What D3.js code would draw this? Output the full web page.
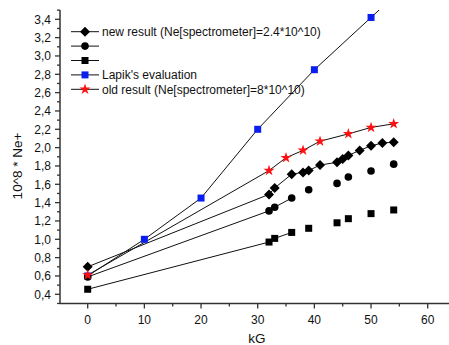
<!DOCTYPE html>
<html>
<head>
<meta charset="utf-8">
<script src="https://cdn.jsdelivr.net/npm/d3@7"></script>
<style>
  body { margin: 0; background: #fff; }
  svg { display: block; font-family: Arial, "Liberation Sans", sans-serif; }
</style>
</head>
<body>
<div id="chart"></div>
<script>
// Data (kG vs 10^8 * Ne+)
const newResultX = [0, 32, 33, 36, 38, 39, 41, 44, 45, 46, 48, 50, 52, 54];
const newResultY = [0.70, 1.49, 1.56, 1.71, 1.73, 1.75, 1.81, 1.84, 1.875, 1.915, 1.97, 2.02, 2.05, 2.06];

const circleX = [0, 32, 33, 36, 39, 44, 46, 50, 54];
const circleY = [0.59, 1.31, 1.35, 1.45, 1.54, 1.61, 1.68, 1.745, 1.82];
const circleLinked = 4; // only the first points are joined by a line

const squareX = [0, 32, 33, 36, 39, 44, 46, 50, 54];
const squareY = [0.455, 0.97, 1.01, 1.075, 1.12, 1.18, 1.225, 1.28, 1.32];
const squareLinked = 4;

const lapikX = [0, 10, 20, 30, 40, 50, 60];
const lapikY = [0.60, 1.00, 1.45, 2.20, 2.85, 3.42, 3.99];

const oldResultX = [0, 32, 35, 38, 41, 46, 50, 54];
const oldResultY = [0.61, 1.75, 1.89, 1.97, 2.07, 2.15, 2.22, 2.26];

const legendLabels = [
  "new result (Ne[spectrometer]=2.4*10^10)",
  "",
  "",
  "Lapik's evaluation",
  "old result (Ne[spectrometer]=8*10^10)"
];

const xTicks = [0, 10, 20, 30, 40, 50, 60];
const xMinorTicks = [5, 15, 25, 35, 45, 55];
const yTicks = d3.range(0.4, 3.41, 0.2);
const yMinorTicks = d3.range(0.3, 3.51, 0.2);

const width = 449;
const height = 345;
const axisLeft = 60;
const axisBottom = 303.5;
const axisTop = 10;

const x = d3.scaleLinear().domain([0, 60]).range([87.7, 427.7]);
const y = d3.scaleLinear().domain([0.4, 3.4]).range([294.3, 19.3]);

function zip(xs, ys) {
  return xs.map((v, i) => ({ x: v, y: ys[i] }));
}

const svg = d3.select("#chart").append("svg")
  .attr("width", width)
  .attr("height", height);

svg.append("defs").append("clipPath").attr("id", "plot-clip")
  .append("rect")
  .attr("x", axisLeft).attr("y", axisTop)
  .attr("width", width - axisLeft).attr("height", axisBottom - axisTop);

// Axes
const axisColor = "#333";
const xAxis = svg.append("g").attr("transform", `translate(0,${axisBottom})`);
xAxis.append("line")
  .attr("x1", axisLeft).attr("x2", width)
  .attr("stroke", axisColor).attr("stroke-width", 1.5);
xAxis.selectAll("line.major").data(xTicks).join("line")
  .attr("class", "major")
  .attr("x1", x).attr("x2", x).attr("y1", 0).attr("y2", 5)
  .attr("stroke", axisColor).attr("stroke-width", 1.3);
xAxis.selectAll("line.minor").data(xMinorTicks).join("line")
  .attr("class", "minor")
  .attr("x1", x).attr("x2", x).attr("y1", 0).attr("y2", 3)
  .attr("stroke", axisColor).attr("stroke-width", 1.3);
xAxis.selectAll("text").data(xTicks).join("text")
  .attr("x", x).attr("y", 20)
  .attr("text-anchor", "middle")
  .attr("font-size", 12)
  .attr("fill", "#111")
  .text((d) => d);

const yAxis = svg.append("g").attr("transform", `translate(${axisLeft},0)`);
yAxis.append("line")
  .attr("y1", axisTop).attr("y2", axisBottom)
  .attr("stroke", axisColor).attr("stroke-width", 1.5);
yAxis.selectAll("line.major").data(yTicks).join("line")
  .attr("class", "major")
  .attr("y1", y).attr("y2", y).attr("x1", 0).attr("x2", -5)
  .attr("stroke", axisColor).attr("stroke-width", 1.3);
yAxis.selectAll("line.minor").data(yMinorTicks).join("line")
  .attr("class", "minor")
  .attr("y1", y).attr("y2", y).attr("x1", 0).attr("x2", -3)
  .attr("stroke", axisColor).attr("stroke-width", 1.3);
yAxis.selectAll("text").data(yTicks).join("text")
  .attr("x", -9).attr("y", y).attr("dy", "0.35em")
  .attr("text-anchor", "end")
  .attr("font-size", 12)
  .attr("fill", "#111")
  .text((d) => d.toFixed(1).replace(".", ","));

svg.append("text")
  .attr("transform", `translate(22,166) rotate(-90)`)
  .attr("text-anchor", "middle")
  .attr("font-size", 13.5)
  .attr("fill", "#111")
  .text("10^8 * Ne+");

svg.append("text")
  .attr("x", 257).attr("y", 343)
  .attr("text-anchor", "middle")
  .attr("font-size", 13.5)
  .attr("fill", "#111")
  .text("kG");

// Markers
const star5 = d3.symbol().type(d3.symbolStar).size(38)();
const markers = {
  diamond: (g) => g.append("path").attr("d", "M0,-5L5,0L0,5L-5,0Z").attr("fill", "#000"),
  circle: (g) => g.append("circle").attr("r", 3.8).attr("fill", "#000"),
  square: (g) => g.append("rect").attr("x", -3.5).attr("y", -3.5).attr("width", 7).attr("height", 7).attr("fill", "#000"),
  blue: (g) => g.append("rect").attr("x", -3.5).attr("y", -3.5).attr("width", 7).attr("height", 7).attr("fill", "#0a1ef0"),
  star: (g) => g.append("path").attr("d", star5).attr("fill", "#ff1010")
};

const series = [
  { points: zip(lapikX, lapikY), linked: lapikX.length, marker: "blue" },
  { points: zip(squareX, squareY), linked: squareLinked, marker: "square" },
  { points: zip(circleX, circleY), linked: circleLinked, marker: "circle" },
  { points: zip(newResultX, newResultY), linked: newResultX.length, marker: "diamond" },
  { points: zip(oldResultX, oldResultY), linked: oldResultX.length, marker: "star" }
];

const line = d3.line().x((d) => x(d.x)).y((d) => y(d.y));
const plot = svg.append("g").attr("clip-path", "url(#plot-clip)");

series.forEach((s) => {
  plot.append("path")
    .datum(s.points.slice(0, s.linked))
    .attr("d", line)
    .attr("fill", "none")
    .attr("stroke", "#111")
    .attr("stroke-width", 1);
});
series.forEach((s) => {
  plot.append("g").selectAll("g").data(s.points).join("g")
    .attr("transform", (d) => `translate(${x(d.x)},${y(d.y)})`)
    .each(function drawMarker() { markers[s.marker](d3.select(this)); });
});

// Legend
const legendOrder = ["diamond", "circle", "square", "blue", "star"];
const legend = svg.append("g");
legendLabels.forEach((label, i) => {
  const row = legend.append("g").attr("transform", `translate(85,${31.7 + i * 14.4})`);
  row.append("line").attr("x1", -14).attr("x2", 14).attr("stroke", "#111").attr("stroke-width", 1);
  markers[legendOrder[i]](row);
  row.append("text")
    .attr("x", 17).attr("dy", "0.35em")
    .attr("font-size", 12)
    .attr("fill", "#111")
    .text(label);
});
</script>
</body>
</html>
